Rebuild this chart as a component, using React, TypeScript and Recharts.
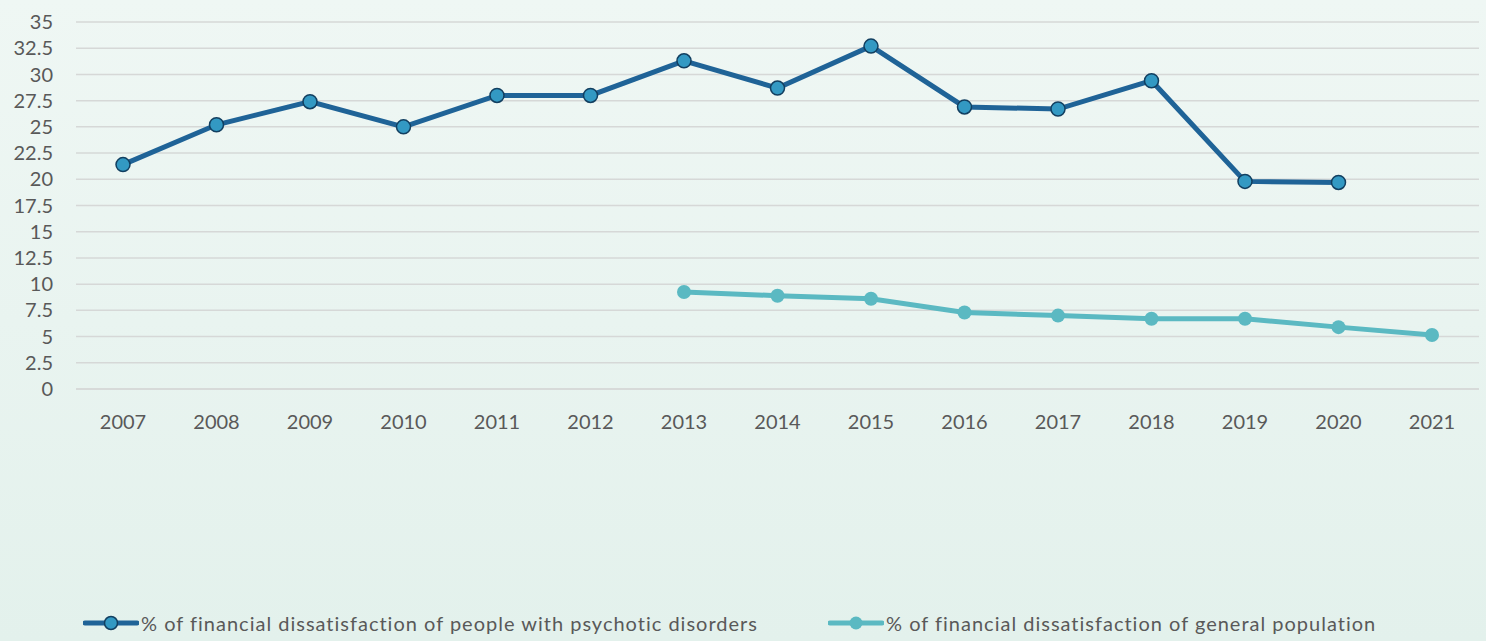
import React from "react";
import { LineChart, Line, XAxis, YAxis, CartesianGrid, Legend } from "recharts";

const years = ["2007","2008","2009","2010","2011","2012","2013","2014","2015","2016","2017","2018","2019","2020","2021"];
const psychotic: (number | null)[] = [21.4, 25.2, 27.4, 25.0, 28.0, 28.0, 31.3, 28.7, 32.7, 26.9, 26.7, 29.4, 19.8, 19.7, null];
const general: (number | null)[] = [null, null, null, null, null, null, 9.25, 8.9, 8.6, 7.3, 7.0, 6.7, 6.7, 5.9, 5.15];
const yTicks = [0, 2.5, 5, 7.5, 10, 12.5, 15, 17.5, 20, 22.5, 25, 27.5, 30, 32.5, 35];
const seriesNames = [
  "% of financial dissatisfaction of people with psychotic disorders",
  "% of financial dissatisfaction of general population",
];

const data = years.map((y, i) => ({ year: y, psychotic: psychotic[i], general: general[i] }));

const DARK = "#1f6397";
const DOT = "#3399c3";
const DOT_STROKE = "#123f60";
const LIGHT = "#5bb9c2";
const FONT = "Lato, 'Open Sans', sans-serif";

const fmt = (v: number) => String(v);

const LegendContent = () => (
  <div style={{ position: "relative", height: 30, width: 1486, fontFamily: FONT, fontSize: 20, color: "#595959" }}>
    <div style={{ position: "absolute", left: 83, top: 0, display: "flex", alignItems: "center", height: 30 }}>
      <svg width={56} height={20}>
        <line x1={2} y1={10} x2={54} y2={10} stroke={DARK} strokeWidth={5} strokeLinecap="round" />
        <circle cx={28} cy={10} r={6.5} fill={DOT} stroke={DOT_STROKE} strokeWidth={1.5} />
      </svg>
      <span style={{ marginLeft: 2, letterSpacing: 1.0, whiteSpace: "nowrap" }}>{seriesNames[0]}</span>
    </div>
    <div style={{ position: "absolute", left: 828, top: 0, display: "flex", alignItems: "center", height: 30 }}>
      <svg width={56} height={20}>
        <line x1={2} y1={10} x2={54} y2={10} stroke={LIGHT} strokeWidth={5} strokeLinecap="round" />
        <circle cx={28} cy={10} r={6.5} fill={LIGHT} />
      </svg>
      <span style={{ marginLeft: 2, letterSpacing: 1.0, whiteSpace: "nowrap" }}>{seriesNames[1]}</span>
    </div>
  </div>
);

export default function App() {
  return (
    <div
      style={{
        position: "absolute",
        left: 0,
        top: 0,
        width: 1486,
        height: 641,
        background: "linear-gradient(180deg, #eff7f4 0%, #e9f4f0 50%, #e3f1ec 100%)",
      }}
    >
      <LineChart width={1486} height={641} data={data} margin={{ top: 22, right: 7, left: 0, bottom: 182 }}>
        <CartesianGrid vertical={false} stroke="#d6d8d7" strokeWidth={1.5} />
        <XAxis
          dataKey="year"
          axisLine={{ stroke: "#d6d8d7", strokeWidth: 1.5 }}
          tickLine={false}
          tickMargin={20}
          height={40}
          padding={{ left: 47, right: 47 }}
          tick={{ fill: "#595959", fontSize: 20, fontFamily: FONT }}
          interval={0}
        />
        <YAxis
          domain={[0, 35]}
          ticks={yTicks}
          tickFormatter={fmt}
          axisLine={false}
          tickLine={false}
          tickMargin={17}
          width={76}
          interval={0}
          tick={{ fill: "#595959", fontSize: 20, fontFamily: FONT }}
        />
        <Legend content={LegendContent} wrapperStyle={{ top: 608, left: 0, width: 1486, height: 30 }} />
        <Line
          type="linear"
          dataKey="psychotic"
          name={seriesNames[0]}
          stroke={DARK}
          strokeWidth={5}
          dot={{ r: 7, fill: DOT, stroke: DOT_STROKE, strokeWidth: 1.5 }}
          activeDot={false}
          isAnimationActive={false}
        />
        <Line
          type="linear"
          dataKey="general"
          name={seriesNames[1]}
          stroke={LIGHT}
          strokeWidth={5}
          dot={{ r: 7, fill: LIGHT, stroke: LIGHT, strokeWidth: 0 }}
          activeDot={false}
          isAnimationActive={false}
        />
      </LineChart>
    </div>
  );
}
